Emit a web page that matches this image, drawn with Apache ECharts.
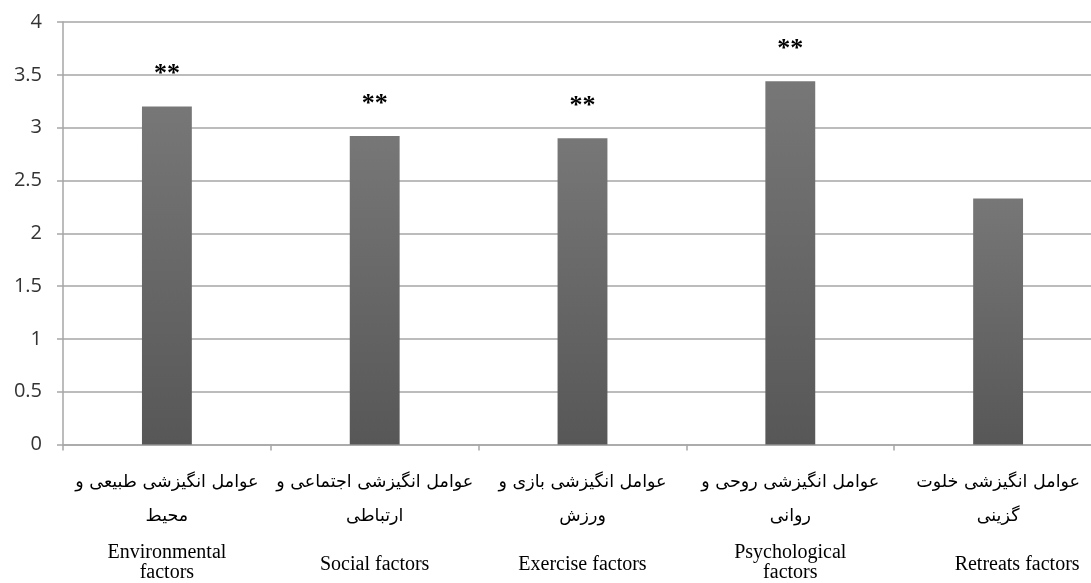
<!DOCTYPE html>
<html>
<head>
<meta charset="utf-8">
<script src="https://cdn.jsdelivr.net/npm/echarts@6/dist/echarts.min.js"></script>
<style>
html,body{margin:0;padding:0;background:#fff;}
#c{width:1091px;height:583px;}
</style>
</head>
<body>
<div id="c"></div>
<script>
var faLine1 = ['عوامل انگیزشی طبیعی و', 'عوامل انگیزشی اجتماعی و', 'عوامل انگیزشی بازی و', 'عوامل انگیزشی روحی و', 'عوامل انگیزشی خلوت'];
var faLine2 = ['محیط', 'ارتباطی', 'ورزش', 'روانی', 'گزینی'];
var enLabels = ['Environmental\nfactors', 'Social factors', 'Exercise factors', 'Psychological\nfactors', 'Retreats factors'];
var values = [3.20, 2.92, 2.90, 3.44, 2.33];
var marks = ['**', '**', '**', '**', ''];
var yTicks = [0, 0.5, 1, 1.5, 2, 2.5, 3, 3.5, 4];

var categories = enLabels.map(function (e, i) { return String(i); });
var lastIdx = enLabels.length - 1;

var chart = echarts.init(document.getElementById('c'));
chart.setOption({
  animation: false,
  backgroundColor: '#ffffff',
  grid: { left: 63, top: 22, width: 1039, height: 422.5, containLabel: false, outerBoundsMode: 'none' },
  xAxis: {
    type: 'category',
    data: categories,
    axisLine: { lineStyle: { color: '#a6a6a6', width: 1.5 } },
    axisTick: { show: true, length: 6, lineStyle: { color: '#a6a6a6', width: 1.5 } },
    axisLabel: {
      interval: 0,
      margin: 21,
      hideOverlap: false,
      formatter: function (v) {
        var i = +v;
        var s = '{fa|' + faLine1[i] + '}\n{fa|' + faLine2[i] + '}\n';
        var parts = enLabels[i].split('\n');
        if (parts.length === 2) {
          s += '{en1|' + parts[0] + '}\n{en2|' + parts[1] + '}';
        } else {
          s += '{' + (i === lastIdx ? 'ensR' : 'ens') + '|' + parts[0] + '}';
        }
        return s;
      },
      rich: {
        fa: { fontFamily: 'DejaVu Sans', fontSize: 17.5, lineHeight: 34, color: '#000', align: 'center' },
        en1: { fontFamily: 'Liberation Serif', fontSize: 20, lineHeight: 29, verticalAlign: 'bottom', color: '#000', align: 'center' },
        en2: { fontFamily: 'Liberation Serif', fontSize: 20, lineHeight: 21, color: '#000', align: 'center' },
        ens: { fontFamily: 'Liberation Serif', fontSize: 20, lineHeight: 63, color: '#000', align: 'center' },
        ensR: { fontFamily: 'Liberation Serif', fontSize: 20, lineHeight: 63, color: '#000', align: 'center', padding: [0, 0, 0, 38] }
      }
    }
  },
  yAxis: {
    type: 'value',
    min: yTicks[0],
    max: yTicks[yTicks.length - 1],
    interval: 0.5,
    axisLine: { show: true, lineStyle: { color: '#a6a6a6', width: 1.5 } },
    axisTick: { show: true, length: 6, lineStyle: { color: '#a6a6a6', width: 1.5 } },
    splitLine: { show: true, lineStyle: { color: '#a6a6a6', width: 1.5 } },
    axisLabel: {
      margin: 21,
      fontFamily: 'Open Sans',
      fontSize: 20,
      color: '#333333'
    }
  },
  series: [{
    type: 'bar',
    data: values,
    barWidth: '24%',
    itemStyle: {
      color: {
        type: 'linear', x: 0, y: 0, x2: 0, y2: 1,
        colorStops: [{ offset: 0, color: '#777777' }, { offset: 1, color: '#575757' }]
      }
    },
    label: {
      show: true,
      position: 'top',
      distance: 19,
      formatter: function (p) { return marks[p.dataIndex]; },
      fontFamily: 'Liberation Serif',
      fontWeight: 'bold',
      fontSize: 26,
      color: '#000'
    }
  }]
});
</script>
</body>
</html>
